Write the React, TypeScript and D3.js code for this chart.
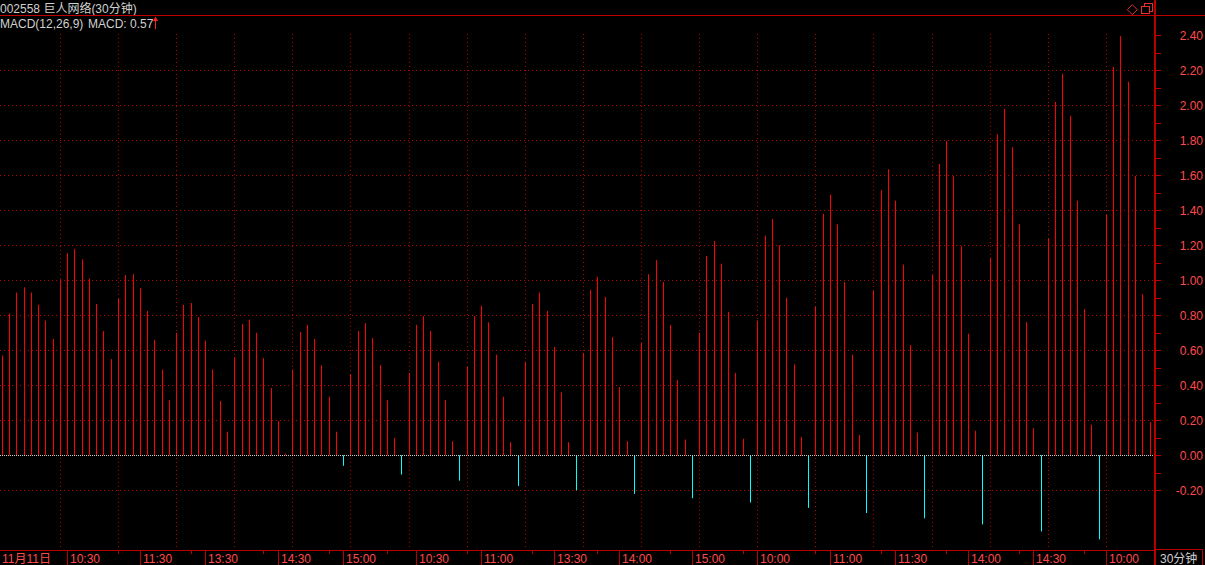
import React from "react";
import * as d3 from "d3";

// MACD histogram values, one per 30-minute bar
const macdValues: number[] = [
  0.57, 0.81, 0.93, 0.96, 0.93, 0.86, 0.77, 0.665,
  1.005, 1.155, 1.18, 1.12, 1.01, 0.865, 0.71, 0.55,
  0.895, 1.03, 1.035, 0.955, 0.825, 0.66, 0.49, 0.315,
  0.7, 0.86, 0.87, 0.79, 0.655, 0.49, 0.31, 0.135,
  0.56, 0.75, 0.775, 0.7, 0.555, 0.385, 0.195, 0.01,
  0.49, 0.705, 0.745, 0.665, 0.515, 0.335, 0.135, -0.06,
  0.465, 0.71, 0.755, 0.67, 0.515, 0.315, 0.1, -0.11,
  0.47, 0.745, 0.795, 0.71, 0.535, 0.315, 0.08, -0.145,
  0.505, 0.795, 0.855, 0.76, 0.575, 0.335, 0.075, -0.175,
  0.535, 0.865, 0.93, 0.825, 0.62, 0.36, 0.075, -0.2,
  0.585, 0.945, 1.02, 0.905, 0.675, 0.39, 0.08, -0.22,
  0.64, 1.035, 1.115, 0.99, 0.745, 0.43, 0.09, -0.245,
  0.7, 1.14, 1.225, 1.095, 0.82, 0.47, 0.095, -0.27,
  0.77, 1.255, 1.35, 1.2, 0.9, 0.52, 0.105, -0.3,
  0.85, 1.38, 1.49, 1.32, 0.99, 0.575, 0.115, -0.33,
  0.94, 1.515, 1.635, 1.455, 1.09, 0.63, 0.13, -0.36,
  1.03, 1.665, 1.795, 1.595, 1.195, 0.695, 0.14, -0.395,
  1.13, 1.835, 1.98, 1.76, 1.32, 0.76, 0.155, -0.435,
  1.24, 2.02, 2.18, 1.94, 1.455, 0.835, 0.175, -0.48,
  1.375, 2.22, 2.395, 2.135, 1.595, 0.92, 0.19,
];

// time axis labels and the bar index they sit at
const timeLabels: string[] = [
  "11月11日", "10:30", "11:30", "13:30", "14:30", "15:00", "10:30", "11:00",
  "13:30", "14:00", "15:00", "10:00", "11:00", "11:30", "14:00", "14:30", "10:00",
];
const timeLabelIndex: number[] = [0, 9, 19, 28, 38, 47, 57, 66, 76, 85, 95, 104, 114, 123, 133, 142, 152];
const minorTickIndex: number[] = [16, 26, 36, 45, 53, 64, 73, 82, 92, 102, 112, 121, 130, 140, 149];

// y axis ticks
const yMajorTicks: number[] = [-0.2, 0, 0.2, 0.4, 0.6, 0.8, 1.0, 1.2, 1.4, 1.6, 1.8, 2.0, 2.2, 2.4];
const yGridValues: number[] = [-0.2, 0.2, 0.4, 0.6, 0.8, 1.0, 1.2, 1.4, 1.6, 1.8, 2.0, 2.2];

const title = "002558 巨人网络(30分钟)";
const indicatorName = "MACD(12,26,9)";
const indicatorValue = "MACD: 0.57";
const periodLabel = "30分钟";

const W = 1205;
const H = 565;
const PLOT_RIGHT = 1155;
const FONT = "'Liberation Sans', Arial, 'Noto Sans CJK SC', sans-serif";

export default function App() {
  const n = macdValues.length;
  const x = d3.scaleLinear().domain([0, n]).range([0, PLOT_RIGHT]);
  const y = d3.scaleLinear().domain([-0.2, 2.4]).range([490.3, 35.3]);
  const bx = (i: number) => Math.floor(x(i) + 2.3);
  const y0 = y(0);
  const gridRed = "#c00000";
  const axisRed = "#b80000";
  const labelRed = "#ff4a4a";
  const textGray = "#d0d0d0";

  const yMinor = d3.range(-2, 25).map((k) => k / 10);
  const vGrid = d3.range(8, n, 8);

  return (
    <svg
      width={W}
      height={H}
      style={{ position: "absolute", left: 0, top: 0, display: "block" }}
      fontFamily={FONT}
    >
      <rect x={0} y={0} width={W} height={H} fill="#000" />

      {/* header */}
      <text x={0} y={12.5} fontSize={12} fill={textGray}>{title}</text>
      <line x1={0} x2={W} y1={15.5} y2={15.5} stroke="#c00000" strokeWidth={1} />
      <text x={0} y={27.5} fontSize={12} fill={textGray}>{indicatorName}</text>
      <text x={88} y={27.5} fontSize={12} fill={textGray}>{indicatorValue}</text>
      <line x1={155.5} x2={155.5} y1={19} y2={29} stroke="#ff2020" strokeWidth={1} />
      <path d="M153,21 L155.5,16.5 L158,21 Z" fill="#ff2020" />

      {/* icons top right */}
      <path d="M1132.3,4.7 L1137.3,9.7 L1132.3,14.7 L1127.3,9.7 Z" fill="none" stroke="#e03030" strokeWidth={1} />
      <rect x={1144.5} y={3.5} width={8} height={8} fill="none" stroke="#e03030" strokeWidth={1} />
      <rect x={1141.5} y={6.5} width={8} height={7} fill="#000" stroke="#e03030" strokeWidth={1} />

      {/* horizontal grid */}
      {yGridValues.map((v) => {
        const yy = Math.round(y(v)) + 0.5;
        return (
          <line key={"hg" + v} x1={0} x2={PLOT_RIGHT - 1} y1={yy} y2={yy}
            stroke={gridRed} strokeWidth={1} strokeDasharray="1,3" />
        );
      })}
      {/* vertical grid */}
      {vGrid.map((i) => (
        <line key={"vg" + i} x1={bx(i) + 0.5} x2={bx(i) + 0.5} y1={34} y2={548}
          stroke={gridRed} strokeWidth={1} strokeDasharray="1,3" />
      ))}

      {/* bars */}
      {macdValues.map((v, i) => {
        const yt = y(Math.max(v, 0));
        const yb = y(Math.min(v, 0));
        return (
          <rect key={"b" + i} x={bx(i)} y={yt} width={1} height={Math.max(yb - yt, 0.5)}
            fill={v >= 0 ? "#ff0000" : "#00ffff"} />
        );
      })}

      {/* zero line */}
      <line x1={0} x2={PLOT_RIGHT - 1} y1={Math.round(y0) + 0.5} y2={Math.round(y0) + 0.5}
        stroke="#c8c8c8" strokeWidth={1} strokeDasharray="1,1" />

      {/* right axis */}
      <line x1={PLOT_RIGHT} x2={PLOT_RIGHT} y1={0} y2={H} stroke={axisRed} strokeWidth={2} />
      {yMinor.map((v) => {
        const yy = Math.round(y(v)) + 0.5;
        return <line key={"ymt" + v} x1={PLOT_RIGHT} x2={PLOT_RIGHT + 6} y1={yy} y2={yy} stroke={axisRed} strokeWidth={1} />;
      })}
      {yMajorTicks.map((v) => (
        <text key={"yl" + v} x={1203} y={y(v) + 4.5} fontSize={12} fill={labelRed} textAnchor="end">
          {v.toFixed(2)}
        </text>
      ))}

      {/* bottom axis */}
      <line x1={0} x2={PLOT_RIGHT} y1={550.5} y2={550.5} stroke={axisRed} strokeWidth={1} />
      {minorTickIndex.map((i) => (
        <line key={"mt" + i} x1={bx(i) + 0.5} x2={bx(i) + 0.5} y1={550} y2={554} stroke={axisRed} strokeWidth={1} />
      ))}
      {timeLabels.map((lab, k) => {
        const i = timeLabelIndex[k];
        const xx = i === 0 ? 0 : bx(i);
        return (
          <g key={"tl" + k}>
            {i !== 0 && (
              <line x1={xx + 0.5} x2={xx + 0.5} y1={550} y2={565} stroke={axisRed} strokeWidth={1} />
            )}
            <text x={xx + (i === 0 ? 2 : 3)} y={563} fontSize={12} fill={labelRed}>{lab}</text>
          </g>
        );
      })}

      {/* period box */}
      <rect x={1155.5} y={549.5} width={47} height={16} fill="none" stroke={axisRed} strokeWidth={1} />
      <text x={1160} y={563} fontSize={12} fill={textGray}>{periodLabel}</text>
    </svg>
  );
}
